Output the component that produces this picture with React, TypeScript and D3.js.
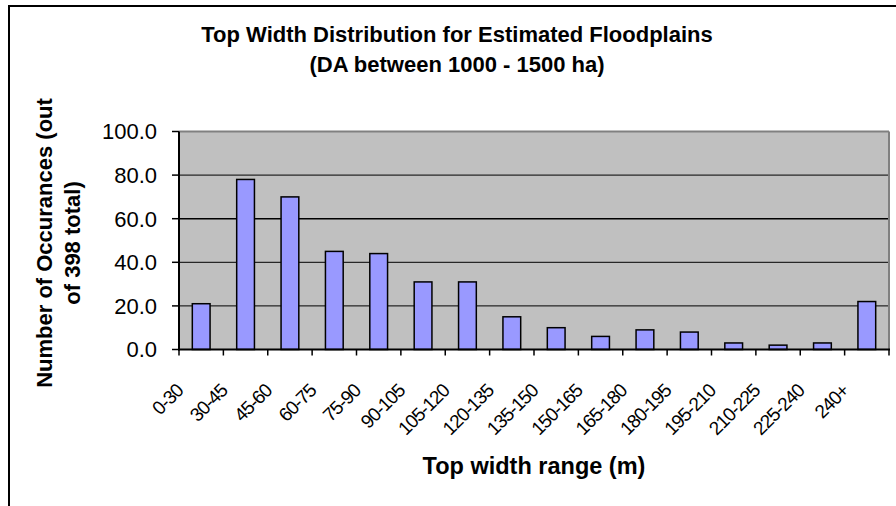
import React from "react";
import * as d3 from "d3";

const categories = ["0-30","30-45","45-60","60-75","75-90","90-105","105-120","120-135","135-150","150-165","165-180","180-195","195-210","210-225","225-240","240+"];
const counts = [21,78,70,45,44,31,31,15,10,6,9,8,3,2,3,22];
const yTicks = [0,20,40,60,80,100];
const titleLines = ["Top Width Distribution for Estimated Floodplains","(DA between 1000 - 1500 ha)"];
const yTitleLines = ["Number of Occurances (out","of 398 total)"];
const xTitle = "Top width range (m)";

const W = 896, H = 506;
const L = 179, R = 889, T = 131.5, B = 349.5;
const FONT = "'Liberation Sans', Arial, sans-serif";

export default function App() {
  const x = d3.scaleBand<string>().domain(categories).range([L, R]).paddingInner(0.6).paddingOuter(0.3);
  const xb = d3.scaleBand<string>().domain(categories).range([L, R]);
  const y = d3.scaleLinear().domain([0, 100]).range([B, T]);
  const bounds = d3.range(categories.length + 1).map(i => L + i * xb.step());
  return (
    <svg width={W} height={H} style={{ position: "absolute", left: 0, top: 0 }} fontFamily={FONT}>
      <rect x={0} y={0} width={W} height={H} fill="#fff" />
      <rect x={9} y={6} width={920} height={540} fill="none" stroke="#000" strokeWidth={2} />
      <rect x={L} y={T} width={R - L} height={B - T} fill="#c0c0c0" />
      {yTicks.filter(t => t > 0 && t < 100).map(t => (
        <line key={t} x1={L} x2={R} y1={y(t)} y2={y(t)} stroke="#000" strokeWidth={t === 60 ? 1.5 : 1} />
      ))}
      <line x1={L} x2={R} y1={T} y2={T} stroke="#808080" strokeWidth={2} />
      <line x1={R} x2={R} y1={T} y2={B} stroke="#808080" strokeWidth={2} />
      {categories.map((c, i) => (
        <rect key={c} x={x(c)} y={y(counts[i])} width={x.bandwidth()} height={B - y(counts[i])}
          fill="#9999ff" stroke="#000" strokeWidth={1.5} />
      ))}
      <line x1={L} x2={L} y1={T} y2={B + 1} stroke="#000" strokeWidth={2} />
      <line x1={L - 1} x2={R + 1} y1={B} y2={B} stroke="#000" strokeWidth={2} />
      {yTicks.map(t => (
        <g key={t}>
          <line x1={L - 7} x2={L} y1={y(t)} y2={y(t)} stroke="#000" strokeWidth={1.5} />
          <text x={157} y={y(t)} dy="0.36em" textAnchor="end" fontSize={22} fill="#000">{t.toFixed(1)}</text>
        </g>
      ))}
      {bounds.map((b, i) => (
        <line key={i} x1={b} x2={b} y1={B} y2={B + 6} stroke="#000" strokeWidth={1.5} />
      ))}
      {categories.map(c => {
        const cx = (xb(c) as number) + xb.bandwidth() / 2 - 17;
        const cy = 392;
        return (
          <text key={c} x={cx} y={cy} textAnchor="end" fontSize={19} letterSpacing={-1}
            transform={`rotate(-45 ${cx} ${cy})`} fill="#000">{c}</text>
        );
      })}
      {titleLines.map((s, i) => (
        <text key={i} x={457} y={42 + i * 30} textAnchor="middle" fontSize={22} fontWeight="bold" fill="#000">{s}</text>
      ))}
      {yTitleLines.map((s, i) => (
        <text key={i} transform={`translate(${52 + i * 28},243) rotate(-90)`} textAnchor="middle" fontSize={22} fontWeight="bold" fill="#000">{s}</text>
      ))}
      <text x={534} y={474} textAnchor="middle" fontSize={23.5} fontWeight="bold" fill="#000">{xTitle}</text>
    </svg>
  );
}
